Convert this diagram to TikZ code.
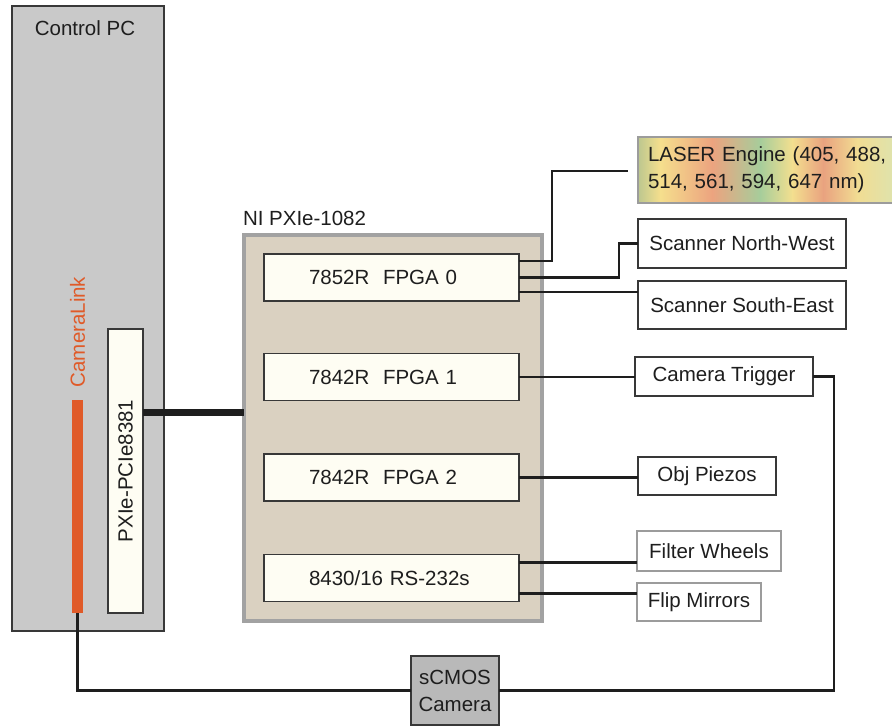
\documentclass[tikz,border=0pt]{standalone}
\usepackage{fontspec}
\setmainfont{Liberation Sans}
\usetikzlibrary{calc}
\definecolor{txt}{HTML}{1E1E1E}
\definecolor{edge}{HTML}{383838}
\definecolor{ivory}{HTML}{FEFDF3}
\definecolor{pcgray}{HTML}{C9C9C9}
\definecolor{tan}{HTML}{DAD1C1}
\definecolor{chbd}{HTML}{A2A2A2}
\definecolor{orange}{HTML}{E05A28}
\definecolor{camgray}{HTML}{B9B9B9}
\definecolor{lightbd}{HTML}{9C9C9C}
\definecolor{lg1}{HTML}{BCC78F}
\definecolor{lg2}{HTML}{F5DF8D}
\definecolor{lg3}{HTML}{ECA37F}
\definecolor{lg4}{HTML}{A6CD9B}
\definecolor{lg5}{HTML}{F3DF8F}
\definecolor{lg6}{HTML}{E9A27F}
\definecolor{lg7}{HTML}{F1DC92}
\definecolor{lg8}{HTML}{DFE3AC}
\begin{document}
\begin{tikzpicture}[x=1pt,y=-1pt,
  every node/.style={font=\fontsize{20.5}{27}\selectfont, text=txt, outer sep=0pt},
  box/.style={draw=edge, line width=1.5pt, fill=ivory, inner sep=0pt, anchor=north west},
  module/.style={box, minimum height=47pt, text width=165pt, inner xsep=45pt, align=left},
  dev/.style={box, fill=white},
  devlight/.style={dev, draw=lightbd},
  wire/.style={draw=txt, line width=2.6pt},
  thinwire/.style={draw=txt, line width=2.3pt}
]
\useasboundingbox (0,0) rectangle (892,727);

% Control PC
\node[draw=edge, line width=1.5pt, fill=pcgray, anchor=north west,
      minimum width=152pt, minimum height=625pt, inner sep=0pt] (pc) at (12,6) {};
\node (pclabel) at ($(pc.north)+(-3,22.6)$) {Control PC};

% CameraLink bar
\node[fill=orange, anchor=north west, minimum width=11pt, minimum height=213pt, inner sep=0pt] (cl) at (72,400) {};
\node[rotate=90, text=orange, inner sep=0pt] (cltext) at (77.5,332) {CameraLink};

% PXIe-PCIe8381
\node[box, minimum width=35pt, minimum height=284pt] (pcie) at (108,329) {};
\node[rotate=90, inner sep=0pt] (pcietext) at (pcie.center) {PXIe-PCIe8381};

% Chassis
\node[draw=chbd, line width=4pt, fill=tan, anchor=north west,
      minimum width=298pt, minimum height=386pt, inner sep=0pt] (chassis) at (244,235) {};
\node[anchor=west, inner sep=0pt] (chlabel) at (243,218) {NI PXIe-1082};

% thick link
\coordinate (pl) at ($(pcie.east)+(0,-59)$);
\draw[txt, line width=7pt] (pl) -- (pl -| chassis.west);

% modules
\node[module] (fpga0) at (264,254) {7852R\ \ FPGA 0};
\node[module] (fpga1) at (264,353.5) {7842R\ \ FPGA 1};
\node[module] (fpga2) at (264,454) {7842R\ \ FPGA 2};
\node[module] (rs) at (264,554.5) {8430/16 RS-232s};

% Laser gradient
\foreach \xa/\xb/\ca/\cb in {638/660.5/lg1/lg2, 660/712.5/lg2/lg3, 712/760.5/lg3/lg4, 760/792.5/lg4/lg5, 792/823.5/lg5/lg6, 823/857.5/lg6/lg7, 857/893/lg7/lg8}
  \shade[left color=\ca, right color=\cb] (\xa,137) rectangle (\xb,203);
\node[draw=lightbd, line width=1.5pt, anchor=north west, minimum height=66pt,
      text width=244pt, inner xsep=10pt, inner ysep=0pt, align=left] (laser) at (638,137)
      {LASER Engine (405, 488,\\514, 561, 594, 647 nm)};

% right devices
\node[dev, minimum width=208pt, minimum height=49pt] (nw) at (638,219) {Scanner North-West};
\node[dev, minimum width=208pt, minimum height=48pt] (se) at (638,281) {Scanner South-East};
\node[dev, minimum width=178pt, minimum height=39pt] (cam) at (635,357) {Camera Trigger};
\node[dev, minimum width=138pt, minimum height=38pt] (obj) at (638,457) {Obj Piezos};
\node[devlight, minimum width=144pt, minimum height=40pt] (fw) at (637,531) {Filter Wheels};
\node[devlight, minimum width=124pt, minimum height=38pt] (fm) at (637,583) {Flip Mirrors};

% sCMOS camera
\node[box, fill=camgray, minimum width=88pt, minimum height=69pt, align=center,
      font=\fontsize{20.5}{27}\selectfont] (scmos) at (411,656) {sCMOS\\Camera};

% connectors FPGA0
\coordinate (laserend) at (628,171);
\draw[wire] ($(fpga0.east)+(0,-16.5)$) -| ($(laserend)+(-76,0)$) -- (laserend);
\draw[wire] (fpga0.east) -| ($(nw.west)+(-19,0)$) -- (nw.west);
\coordinate (f0c) at ($(fpga0.east)+(0,14.5)$);
\draw[wire] (f0c) -- (f0c -| se.west);

% FPGA1, FPGA2
\draw[wire] (fpga1.east) -- (fpga1.east -| cam.west);
\draw[wire] (fpga2.east) -- (fpga2.east -| obj.west);

% RS-232
\coordinate (rsa) at ($(rs.east)+(0,-15.5)$);
\coordinate (rsb) at ($(rs.east)+(0,15.5)$);
\draw[wire] (rsa) -- (rsa -| fw.west);
\draw[wire] (rsb) -- (rsb -| fm.west);

% camera trigger to sCMOS
\draw[thinwire] (cam.east) -- ++(21,0) |- (scmos.east);
% CameraLink to sCMOS
\draw[thinwire] (cl.south) |- (scmos.west);
\end{tikzpicture}
\end{document}
